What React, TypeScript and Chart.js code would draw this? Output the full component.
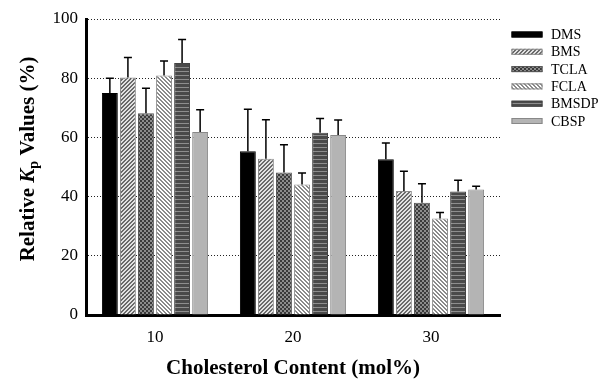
import React, { useEffect, useRef } from 'react';
import { Chart, registerables } from 'chart.js';

Chart.register(...registerables);

const categories = ['10', '20', '30'];
const seriesNames = ['DMS', 'BMS', 'TCLA', 'FCLA', 'BMSDP', 'CBSP'];
const dmsValues = [75.0, 55.3, 52.6];
const dmsErrors = [5.0, 14.2, 5.5];
const bmsValues = [80.2, 52.8, 41.9];
const bmsErrors = [6.8, 13.2, 6.7];
const tclaValues = [68.2, 48.1, 37.9];
const tclaErrors = [8.4, 9.4, 6.4];
const fclaValues = [80.9, 44.1, 32.6];
const fclaErrors = [4.9, 3.9, 2.0];
const bmsdpValues = [85.1, 61.6, 41.7];
const bmsdpErrors = [8.0, 4.8, 3.8];
const cbspValues = [61.8, 60.8, 42.4];
const cbspErrors = [7.5, 5.1, 1.1];
const yMin = 0;
const yMax = 100;
const yStep = 20;

const SERIF = "'Liberation Serif', 'Times New Roman', serif";

function makePattern(size: number, pick: (x: number, y: number) => string): CanvasPattern | string {
  const c = document.createElement('canvas');
  c.width = size;
  c.height = size;
  const g = c.getContext('2d');
  if (!g) return '#888';
  for (let y = 0; y < size; y++) {
    for (let x = 0; x < size; x++) {
      g.fillStyle = pick(x, y);
      g.fillRect(x, y, 1, 1);
    }
  }
  const p = g.createPattern(c, 'repeat');
  return p || '#888';
}

const errorBarsPlugin = {
  id: 'errorBars',
  afterDatasetsDraw(chart: any) {
    const { ctx } = chart;
    const yScale = chart.scales.y;
    ctx.save();
    ctx.strokeStyle = '#000';
    ctx.lineWidth = 1.5;
    chart.data.datasets.forEach((ds: any, i: number) => {
      const meta = chart.getDatasetMeta(i);
      meta.data.forEach((bar: any, j: number) => {
        const err = ds.errors[j];
        const top = yScale.getPixelForValue(ds.data[j] + err);
        ctx.beginPath();
        ctx.moveTo(bar.x, bar.y);
        ctx.lineTo(bar.x, top);
        ctx.moveTo(bar.x - 4, top);
        ctx.lineTo(bar.x + 4, top);
        ctx.stroke();
      });
    });
    ctx.restore();
  },
};

const legendPlugin = {
  id: 'sideLegend',
  afterDraw(chart: any) {
    const { ctx, chartArea } = chart;
    ctx.save();
    const x0 = chartArea.right + 11.5;
    chart.data.datasets.forEach((ds: any, i: number) => {
      const cy = chartArea.top + 15.5 + i * 17.3;
      ctx.fillStyle = ds.backgroundColor;
      ctx.fillRect(x0, cy - 3, 31, 6);
      ctx.strokeStyle = ds.borderColor;
      ctx.lineWidth = 1;
      ctx.strokeRect(x0 + 0.5, cy - 2.5, 30, 5);
      ctx.fillStyle = '#000';
      ctx.font = `14px ${SERIF}`;
      ctx.textAlign = 'left';
      ctx.textBaseline = 'middle';
      ctx.fillText(ds.label, x0 + 39.5, cy + 1);
    });
    ctx.restore();
  },
};

const yTitlePlugin = {
  id: 'yTitle',
  afterDraw(chart: any) {
    const { ctx, chartArea } = chart;
    const parts = [
      { text: 'Relative ', font: `bold 21px ${SERIF}`, dy: 0 },
      { text: 'K', font: `italic bold 21px ${SERIF}`, dy: 0 },
      { text: 'p', font: `bold 14px ${SERIF}`, dy: 5 },
      { text: ' Values (%)', font: `bold 21px ${SERIF}`, dy: 0 },
    ];
    ctx.save();
    let total = 0;
    const widths = parts.map((p) => {
      ctx.font = p.font;
      const w = ctx.measureText(p.text).width;
      total += w;
      return w;
    });
    const cx = 29;
    const cy = (chartArea.top + chartArea.bottom) / 2 - 8;
    ctx.translate(cx, cy);
    ctx.rotate(-Math.PI / 2);
    ctx.fillStyle = '#000';
    ctx.textBaseline = 'middle';
    ctx.textAlign = 'left';
    let x = -total / 2;
    parts.forEach((p, i) => {
      ctx.font = p.font;
      ctx.fillText(p.text, x, p.dy);
      x += widths[i];
    });
    ctx.restore();
  },
};

export default function App() {
  const ref = useRef<HTMLCanvasElement | null>(null);

  useEffect(() => {
    const canvas = ref.current;
    if (!canvas) return;

    const fills = [
      '#000000',
      makePattern(4, (x, y) => ((x + y) % 4 < 2 ? '#6a6a6a' : '#e2e2e2')),
      makePattern(4, (x, y) => ((Math.floor(x / 2) + Math.floor(y / 2)) % 2 === 0 ? '#3a3a3a' : '#8c8c8c')),
      makePattern(4, (x, y) => (((x - y) % 4 + 4) % 4 < 2 ? '#8a8a8a' : '#ffffff')),
      makePattern(4, (x, y) => (y % 4 === 3 ? '#8e8e8e' : '#4a4a4a')),
      '#b4b4b4',
    ];
    const borders = ['#000000', '#8a8a8a', '#555555', '#8a8a8a', '#444444', '#888888'];
    const valuesList = [dmsValues, bmsValues, tclaValues, fclaValues, bmsdpValues, cbspValues];
    const errorsList = [dmsErrors, bmsErrors, tclaErrors, fclaErrors, bmsdpErrors, cbspErrors];

    const chart = new Chart(canvas, {
      type: 'bar',
      data: {
        labels: categories,
        datasets: seriesNames.map((name, i) => ({
          label: name,
          data: valuesList[i],
          errors: errorsList[i],
          backgroundColor: fills[i],
          borderColor: borders[i],
          borderWidth: 1,
          categoryPercentage: 0.785,
          barPercentage: 0.88,
        })) as any,
      },
      options: {
        animation: false,
        responsive: false,
        layout: { padding: { left: 0, top: 19, right: 99, bottom: 0 } },
        plugins: {
          legend: { display: false },
          tooltip: { enabled: false },
        },
        scales: {
          x: {
            z: 1,
            grid: { display: false, drawTicks: false },
            border: { display: true, color: '#000', width: 3 },
            ticks: { font: { family: SERIF, size: 17 }, color: '#000', padding: 12 },
            title: {
              display: true,
              text: 'Cholesterol Content (mol%)',
              font: { family: SERIF, size: 21, weight: 'bold', lineHeight: 1.0 },
              color: '#000',
              padding: { top: 0, bottom: 0 },
            },
            afterFit: (s: any) => {
              s.height = 64;
            },
          },
          y: {
            min: yMin,
            max: yMax,
            ticks: { stepSize: yStep, font: { family: SERIF, size: 17 }, color: '#000', padding: 8 },
            grid: { color: '#222', lineWidth: 1, drawTicks: false },
            border: { display: true, color: '#000', width: 3, dash: [1, 2] },
            afterFit: (s: any) => {
              s.width = 86;
            },
          },
        },
      } as any,
      plugins: [errorBarsPlugin, legendPlugin, yTitlePlugin],
    });

    return () => chart.destroy();
  }, []);

  return (
    <div style={{ position: 'fixed', left: 0, top: 0, width: 599, height: 379, background: '#fff' }}>
      <canvas ref={ref} width={599} height={379} style={{ display: 'block' }} />
    </div>
  );
}
